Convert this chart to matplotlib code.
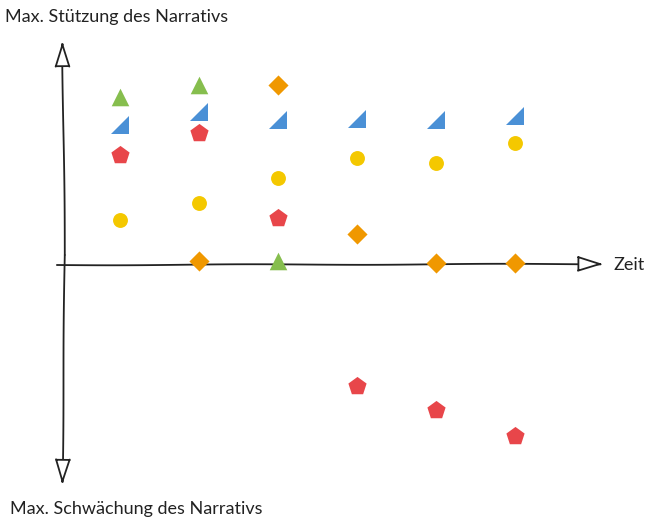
import matplotlib.pyplot as plt
from matplotlib.path import Path

# time steps
zeit = [1, 2, 3, 4, 5, 6]

# values per narrative (positive = support, negative = weakening)
gruen_t = [1, 2, 3]
gruen = [8.4, 9.0, 0.2]

blau_t = [1, 2, 3, 4, 5, 6]
blau = [7.0, 7.65, 7.25, 7.3, 7.25, 7.45]

rot_t = [1, 2, 3, 4, 5, 6]
rot = [5.5, 6.6, 2.35, -6.05, -7.25, -8.55]

gelb_t = [1, 2, 3, 4, 5, 6]
gelb = [2.25, 3.1, 4.35, 5.35, 5.1, 6.1]

orange_t = [3, 2, 4, 5, 6]
orange = [9.0, 0.2, 1.55, 0.1, 0.1]

plt.rcParams['font.family'] = ['Lato', 'DejaVu Sans']

fig = plt.figure(figsize=(6.47, 5.2), dpi=100)
ax = fig.add_axes([0, 0, 1, 1])
ax.set_xlim(-0.52, 7.67)
ax.set_ylim(-12.75, 13.25)
ax.axis('off')

# hand drawn looking axes
arrow = dict(arrowstyle='-|>,head_length=0.9,head_width=0.28', fc='white', ec='#222222',
             lw=1.3, mutation_scale=18, shrinkA=0, shrinkB=0)
a1 = ax.annotate('', xy=(0.27, 11.2), xytext=(0.3, 0.5), arrowprops=arrow)
a2 = ax.annotate('', xy=(0.27, -11.0), xytext=(0.3, 0.5), arrowprops=arrow)
a3 = ax.annotate('', xy=(7.12, 0.05), xytext=(0.2, 0.0), arrowprops=arrow)
for a in (a1, a2, a3):
    a.arrow_patch.set_sketch_params(scale=0.4, length=250, randomness=1)

# right triangle marker for blue
rtri = Path([(-1, -1), (1, -1), (1, 1), (-1, -1)],
            [Path.MOVETO, Path.LINETO, Path.LINETO, Path.CLOSEPOLY])

ax.scatter(gruen_t, gruen, marker='^', s=160, color='#86BE4E', zorder=3, linewidths=0)
ax.scatter(blau_t, blau, marker=rtri, s=170, color='#4A90D6', zorder=3, linewidths=0)
ax.scatter(rot_t, rot, marker='p', s=190, color='#E8464A', zorder=3, linewidths=0)
ax.scatter(gelb_t, gelb, marker='o', s=115, color='#F4C800', zorder=3, linewidths=0)
ax.scatter(orange_t, orange, marker='D', s=105, color='#F09800', zorder=3, linewidths=0)

ax.text(0.008, 0.967, 'Max. Stützung des Narrativs', transform=ax.transAxes,
        fontsize=13, color='#222222', ha='left', va='center')
ax.text(0.015, 0.022, 'Max. Schwächung des Narrativs', transform=ax.transAxes,
        fontsize=13, color='#222222', ha='left', va='center')
ax.text(7.25, 0.0, 'Zeit', fontsize=13, color='#222222', ha='left', va='center')

fig.savefig('out.png', dpi=100)
